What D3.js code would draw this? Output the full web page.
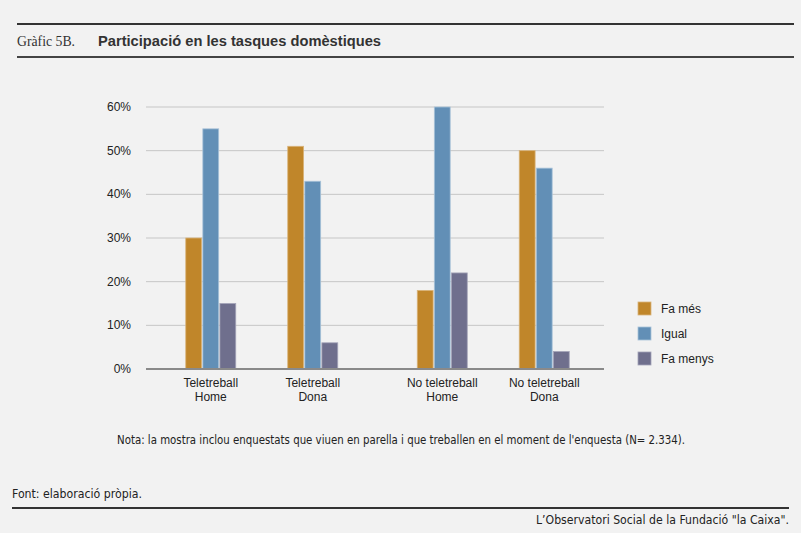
<!DOCTYPE html>
<html>
<head>
<meta charset="utf-8">
<script src="https://cdn.jsdelivr.net/npm/d3@7"></script>
<style>
  html, body { margin: 0; padding: 0; background: #f2f2f2; }
  svg { display: block; }
  text { fill: #222; }
</style>
</head>
<body>
<div class="chart"></div>
<script>
/* global d3 */

const blocks = ['Teletreball', 'No teletreball'];
const sexes = ['Home', 'Dona'];
const series = ['Fa més', 'Igual', 'Fa menys'];
const yTicks = [0, 10, 20, 30, 40, 50, 60];

// one row per block+sex, values in the series order
const faMes = [30, 51, 18, 50];
const igual = [55, 43, 60, 46];
const faMenys = [15, 6, 22, 4];

const rows = [];
blocks.forEach((b, bi) => {
  sexes.forEach((s, si) => {
    const i = bi * 2 + si;
    rows.push({block: b, sex: s, values: [faMes[i], igual[i], faMenys[i]]});
  });
});

document.addEventListener('DOMContentLoaded', () => {
  const width = 801;
  const height = 533;
  const colorRange = ['#c0862a', '#628fb6', '#6f6f8d'];
  const strokeRange = ['#d9b47a', '#a9c3d9', '#a4a4b8'];

  const svg = d3.select('.chart').append('svg')
    .attr('width', width).attr('height', height);

  svg.append('rect').attr('width', width).attr('height', height).attr('fill', '#f2f2f2');

  // header
  svg.append('line').attr('x1', 17).attr('x2', 794).attr('y1', 24).attr('y2', 24)
    .attr('stroke', '#333').attr('stroke-width', 2);
  svg.append('line').attr('x1', 17).attr('x2', 794).attr('y1', 57).attr('y2', 57)
    .attr('stroke', '#444').attr('stroke-width', 2);
  svg.append('text').attr('x', 17).attr('y', 46)
    .attr('textLength', 58).attr('lengthAdjust', 'spacingAndGlyphs')
    .style('font-family', '"Liberation Serif", "DejaVu Serif", serif')
    .style('font-size', '15px').style('fill', '#333')
    .text('Gràfic 5B.');
  svg.append('text').attr('x', 98).attr('y', 46)
    .attr('textLength', 283).attr('lengthAdjust', 'spacingAndGlyphs')
    .style('font-family', '"Liberation Sans", Arial, sans-serif')
    .style('font-size', '14.5px').style('font-weight', 'bold').style('fill', '#333')
    .text('Participació en les tasques domèstiques');

  // scales
  const y = d3.scaleLinear().domain([0, 60]).range([369, 107]);
  const xBlock = d3.scaleBand().domain(blocks).range([146, 609]);
  const xSex = d3.scaleBand().domain(sexes).range([0, xBlock.bandwidth()]).paddingOuter(0.135);
  const xSeries = d3.scaleBand().domain(series).range([-25, 25]).paddingInner(0.07);
  const color = d3.scaleOrdinal().domain(series).range(colorRange);
  const strokeColor = d3.scaleOrdinal().domain(series).range(strokeRange);

  const plotLeft = 146;
  const plotRight = 604;

  // gridlines + y labels
  const yAxis = svg.append('g').attr('class', 'y-axis');
  yAxis.selectAll('line').data(yTicks.filter(d => d > 0)).enter().append('line')
    .attr('x1', plotLeft).attr('x2', plotRight)
    .attr('y1', d => y(d)).attr('y2', d => y(d))
    .attr('stroke', '#c6c6c6').attr('stroke-width', 1);
  yAxis.selectAll('text').data(yTicks).enter().append('text')
    .attr('x', 131).attr('y', d => y(d) + 4)
    .attr('text-anchor', 'end')
    .style('font-family', '"Liberation Sans", Arial, sans-serif')
    .style('font-size', '12px')
    .text(d => d + '%');

  // bars
  const groups = svg.selectAll('.group').data(rows).enter().append('g')
    .attr('class', 'group')
    .attr('transform', d => `translate(${xBlock(d.block) + xSex(d.sex) + xSex.bandwidth() / 2},0)`);

  groups.selectAll('.bar').data(d => d.values.map((v, i) => ({key: series[i], value: v})))
    .enter().append('rect')
    .attr('class', 'bar')
    .attr('x', d => xSeries(d.key))
    .attr('width', xSeries.bandwidth())
    .attr('y', d => y(d.value))
    .attr('height', d => y(0) - y(d.value))
    .attr('fill', d => color(d.key))
    .attr('stroke', d => strokeColor(d.key))
    .attr('stroke-width', 0.8);

  // category labels
  groups.append('text').attr('y', 387).attr('text-anchor', 'middle')
    .style('font-family', '"Liberation Sans", Arial, sans-serif').style('font-size', '12px')
    .text(d => d.block);
  groups.append('text').attr('y', 401).attr('text-anchor', 'middle')
    .style('font-family', '"Liberation Sans", Arial, sans-serif').style('font-size', '12px')
    .text(d => d.sex);

  // baseline
  svg.append('line').attr('x1', plotLeft).attr('x2', plotRight)
    .attr('y1', y(0)).attr('y2', y(0))
    .attr('stroke', '#8a8a8a').attr('stroke-width', 2);

  // legend
  const legend = svg.selectAll('.legend').data(series).enter().append('g')
    .attr('class', 'legend')
    .attr('transform', (d, i) => `translate(638,${302 + i * 25})`);
  legend.append('rect').attr('width', 13).attr('height', 13)
    .attr('fill', d => color(d)).attr('stroke', d => strokeColor(d)).attr('stroke-width', 0.8);
  legend.append('text').attr('x', 23).attr('y', 11)
    .style('font-family', '"Liberation Sans", Arial, sans-serif').style('font-size', '12px')
    .text(d => d);

  // note
  svg.append('text').attr('x', 401).attr('y', 444).attr('text-anchor', 'middle')
    .attr('textLength', 568).attr('lengthAdjust', 'spacingAndGlyphs')
    .style('font-family', '"Liberation Sans Narrow", "DejaVu Sans Condensed", Arial, sans-serif')
    .style('font-size', '12px')
    .text('Nota: la mostra inclou enquestats que viuen en parella i que treballen en el moment de l\'enquesta (N= 2.334).');

  // footer
  svg.append('text').attr('x', 12).attr('y', 498)
    .attr('textLength', 130).attr('lengthAdjust', 'spacingAndGlyphs')
    .style('font-family', '"Liberation Sans Narrow", "DejaVu Sans Condensed", Arial, sans-serif')
    .style('font-size', '12px')
    .text('Font: elaboració pròpia.');
  svg.append('line').attr('x1', 12).attr('x2', 789).attr('y1', 508).attr('y2', 508)
    .attr('stroke', '#333').attr('stroke-width', 2);
  svg.append('text').attr('x', 789).attr('y', 524).attr('text-anchor', 'end')
    .attr('textLength', 253).attr('lengthAdjust', 'spacingAndGlyphs')
    .style('font-family', '"Liberation Sans Narrow", "DejaVu Sans Condensed", Arial, sans-serif')
    .style('font-size', '12px')
    .text('L’Observatori Social de la Fundació "la Caixa".');
});
</script>
</body>
</html>
